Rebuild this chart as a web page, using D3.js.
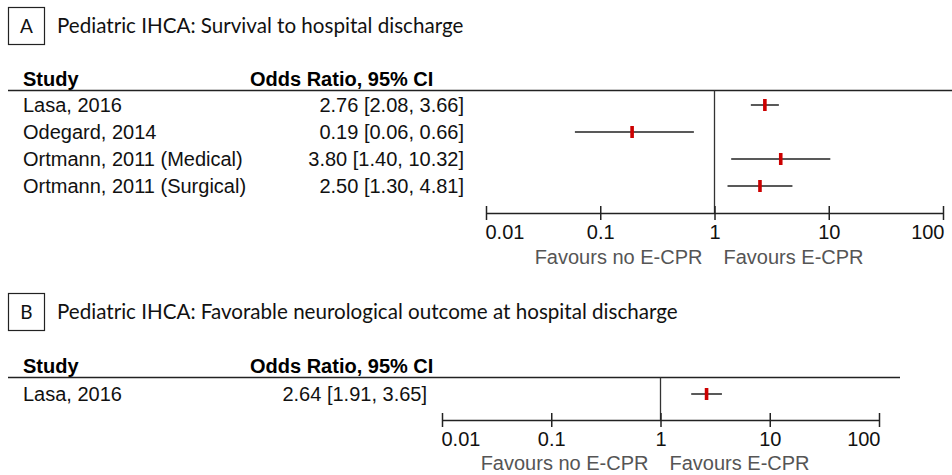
<!DOCTYPE html>
<html>
<head>
<meta charset="utf-8">
<script src="https://cdn.jsdelivr.net/npm/d3@7"></script>
<style>
  body { margin: 0; background: #fff; }
  svg { display: block; }
</style>
</head>
<body>
<div id="chart"></div>
<script>
// panel A data
const studiesA = ['Lasa, 2016', 'Odegard, 2014', 'Ortmann, 2011 (Medical)', 'Ortmann, 2011 (Surgical)']
const orA = [2.76, 0.19, 3.80, 2.50]
const lowA = [2.08, 0.06, 1.40, 1.30]
const highA = [3.66, 0.66, 10.32, 4.81]

// panel B data
const studiesB = ['Lasa, 2016']
const orB = [2.64]
const lowB = [1.91]
const highB = [3.65]

const tickValues = [0.01, 0.1, 1, 10, 100]
const tickLabels = ['0.01', '0.1', '1', '10', '100']

const width = 952
const height = 475
const labelFont = "'Liberation Sans', Arial, sans-serif"
const titleFont = "Lato, 'Open Sans', sans-serif"
const fs = 20

const svg = d3.select('#chart')
  .append('svg')
  .attr('width', width)
  .attr('height', height)

const drawPanel = (opts) => {
  const g = svg.append('g')
  const rows = opts.studies.map((s, i) => ({
    study: s,
    or: opts.or[i],
    low: opts.low[i],
    high: opts.high[i]
  }))

  // letter box + title
  g.append('rect')
    .attr('x', 8.5)
    .attr('y', opts.top + 0.5)
    .attr('width', 36)
    .attr('height', 37)
    .attr('fill', 'none')
    .attr('stroke', '#222')
    .attr('stroke-width', 1.2)

  g.append('text')
    .attr('x', 26.5)
    .attr('y', opts.top + 26)
    .attr('text-anchor', 'middle')
    .attr('font-family', titleFont)
    .attr('font-size', 19)
    .attr('fill', '#111')
    .text(opts.letter)

  g.append('text')
    .attr('x', 57)
    .attr('y', opts.top + 26)
    .attr('font-family', titleFont)
    .attr('font-size', 20.6)
    .attr('fill', '#111')
    .text(opts.title)

  // header
  g.append('text')
    .attr('x', 23)
    .attr('y', opts.headY)
    .attr('font-family', labelFont)
    .attr('font-weight', 'bold')
    .attr('font-size', fs)
    .text('Study')

  g.append('text')
    .attr('x', 250)
    .attr('y', opts.headY)
    .attr('font-family', labelFont)
    .attr('font-weight', 'bold')
    .attr('font-size', fs)
    .text('Odds Ratio, 95% CI')

  g.append('line')
    .attr('x1', 8)
    .attr('x2', opts.lineEnd)
    .attr('y1', opts.headY + 4.5)
    .attr('y2', opts.headY + 4.5)
    .attr('stroke', '#222')
    .attr('stroke-width', 1.5)

  const x = d3.scaleLog()
    .domain([0.01, 100])
    .range([opts.x0, opts.x1])

  const y = d3.scaleLinear()
    .domain([0, 1])
    .range([opts.rowY, opts.rowY + opts.rowStep])

  // row labels
  g.selectAll('text.study')
    .data(rows)
    .enter()
    .append('text')
    .attr('class', 'study')
    .attr('x', 23)
    .attr('y', (d, i) => y(i) + 7)
    .attr('font-family', labelFont)
    .attr('font-size', fs)
    .attr('fill', '#111')
    .text(d => d.study)

  g.selectAll('text.ci')
    .data(rows)
    .enter()
    .append('text')
    .attr('class', 'ci')
    .attr('x', opts.ciRight)
    .attr('y', (d, i) => y(i) + 7)
    .attr('text-anchor', 'end')
    .attr('font-family', labelFont)
    .attr('font-size', fs)
    .attr('fill', '#111')
    .text(d => `${d.or.toFixed(2)} [${d.low.toFixed(2)}, ${d.high.toFixed(2)}]`)

  // null line
  g.append('line')
    .attr('x1', x(1))
    .attr('x2', x(1))
    .attr('y1', opts.headY + 4.5)
    .attr('y2', opts.axisY)
    .attr('stroke', '#333')
    .attr('stroke-width', 1.3)

  // CI lines and estimates
  g.selectAll('line.ci')
    .data(rows)
    .enter()
    .append('line')
    .attr('class', 'ci')
    .attr('x1', d => x(d.low))
    .attr('x2', d => x(d.high))
    .attr('y1', (d, i) => y(i))
    .attr('y2', (d, i) => y(i))
    .attr('stroke', '#222')
    .attr('stroke-width', 1.5)

  g.selectAll('rect.est')
    .data(rows)
    .enter()
    .append('rect')
    .attr('class', 'est')
    .attr('x', d => x(d.or) - 1.8)
    .attr('y', (d, i) => y(i) - 6)
    .attr('width', 3.6)
    .attr('height', 12)
    .attr('fill', '#cc0000')

  // axis
  const axis = d3.axisBottom(x)
    .tickValues(tickValues)
    .tickFormat((d, i) => tickLabels[i])
    .tickSize(7)
    .tickSizeOuter(0)

  const ax = g.append('g')
    .attr('transform', `translate(0,${opts.axisY})`)
    .call(axis)

  ax.select('.domain')
    .attr('stroke', '#222')
    .attr('stroke-width', 1.5)

  ax.selectAll('.tick line')
    .attr('y1', -7)
    .attr('stroke', '#222')
    .attr('stroke-width', 1.5)

  ax.selectAll('.tick text')
    .attr('font-family', labelFont)
    .attr('font-size', fs)
    .attr('fill', '#111')
    .attr('y', opts.tickLabelDy)
    .attr('dy', 0)
    .attr('text-anchor', (d, i) => i === 0 ? 'start' : (i === tickValues.length - 1 ? 'end' : 'middle'))
    .attr('dx', (d, i) => i === 0 ? -1 : (i === tickValues.length - 1 ? 1 : 0))

  g.append('text')
    .attr('x', x(1) - 12)
    .attr('y', opts.favY)
    .attr('text-anchor', 'end')
    .attr('font-family', labelFont)
    .attr('font-size', fs)
    .attr('fill', '#555')
    .text('Favours no E-CPR')

  g.append('text')
    .attr('x', x(1) + 9)
    .attr('y', opts.favY)
    .attr('font-family', labelFont)
    .attr('font-size', fs)
    .attr('fill', '#555')
    .text('Favours E-CPR')
}

drawPanel({
  letter: 'A',
  title: 'Pediatric IHCA: Survival to hospital discharge',
  top: 7,
  headY: 86,
  lineEnd: 952,
  studies: studiesA, or: orA, low: lowA, high: highA,
  rowY: 105, rowStep: 27,
  ciRight: 464,
  x0: 486, x1: 943,
  axisY: 213,
  tickLabelDy: 26,
  favY: 264
})

drawPanel({
  letter: 'B',
  title: 'Pediatric IHCA: Favorable neurological outcome at hospital discharge',
  top: 293,
  headY: 373,
  lineEnd: 900,
  studies: studiesB, or: orB, low: lowB, high: highB,
  rowY: 394, rowStep: 27,
  ciRight: 427,
  x0: 442, x1: 879,
  axisY: 420,
  tickLabelDy: 26,
  favY: 470
})
</script>
</body>
</html>
